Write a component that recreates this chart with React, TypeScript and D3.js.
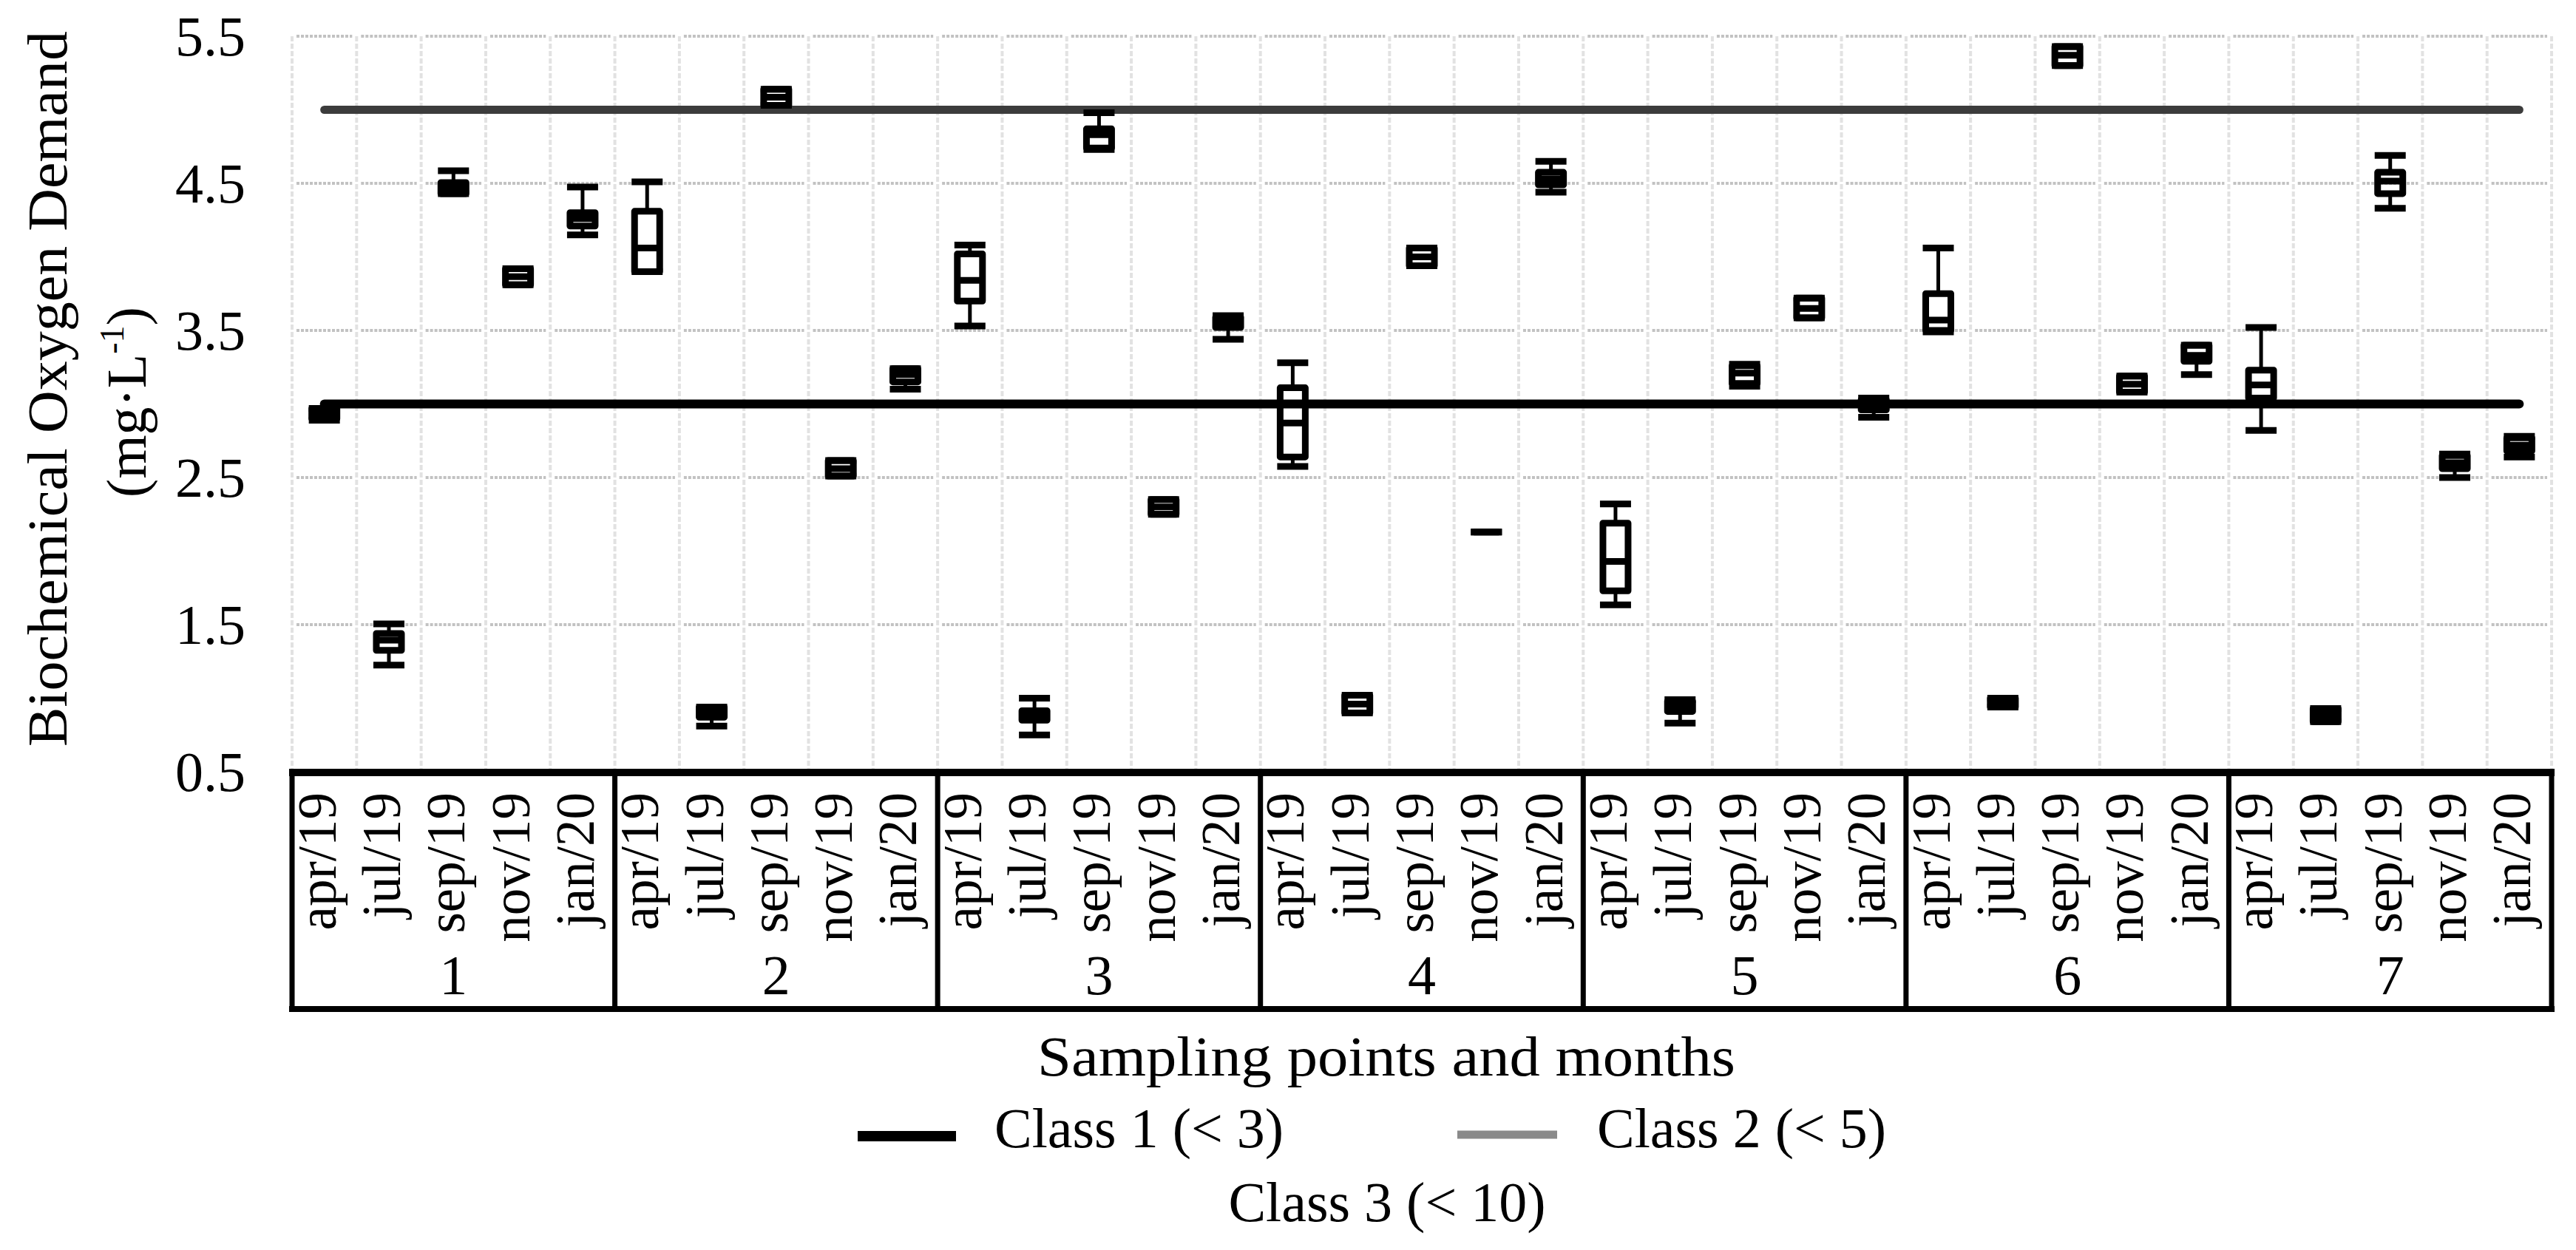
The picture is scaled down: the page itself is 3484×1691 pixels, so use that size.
import React from "react";
import * as d3 from "d3";

const groups = ["1", "2", "3", "4", "5", "6", "7"];
const months = ["apr/19", "jul/19", "sep/19", "nov/19", "jan/20"];
const yTicks = [0.5, 1.5, 2.5, 3.5, 4.5, 5.5];
const yTickLabels = ["0.5", "1.5", "2.5", "3.5", "4.5", "5.5"];

// box-plot statistics, one per (group, month), in group order
const minVals = [
  2.89, 1.225, 4.43, 3.81, 4.15,
  3.9, 0.81, 5.03, 2.51, 3.1,
  3.53, 0.75, 4.73, 2.25, 3.44,
  2.575, 0.9, 3.94, 2.13, 4.44,
  1.635, 0.83, 3.12, 3.585, 2.91,
  3.49, 0.94, 5.3, 3.08, 3.2,
  2.82, 0.84, 4.33, 2.5, 2.64,
];
const q1Vals = [
  2.9, 1.325, 4.43, 3.81, 4.21,
  3.9, 0.87, 5.03, 2.51, 3.15,
  3.7, 0.85, 4.74, 2.25, 3.52,
  2.64, 0.9, 3.94, 2.13, 4.49,
  1.73, 0.91, 3.14, 3.585, 2.96,
  3.5, 0.94, 5.3, 3.08, 3.29,
  3.04, 0.84, 4.43, 2.56, 2.68,
];
const medianVals = [
  2.94, 1.395, 4.47, 3.865, 4.26,
  4.06, 0.905, 5.085, 2.56, 3.2,
  3.84, 0.885, 4.83, 2.3, 3.55,
  2.87, 0.96, 4.0, 2.13, 4.53,
  1.93, 0.95, 3.21, 3.65, 2.99,
  3.57, 0.97, 5.37, 3.135, 3.33,
  3.13, 0.885, 4.515, 2.6, 2.72,
];
const q3Vals = [
  2.97, 1.44, 4.505, 3.92, 4.3,
  4.31, 0.94, 5.14, 2.615, 3.24,
  4.02, 0.915, 4.87, 2.35, 3.59,
  3.11, 1.02, 4.06, 2.13, 4.575,
  2.19, 0.98, 3.26, 3.72, 3.03,
  3.75, 1.0, 5.43, 3.19, 3.4,
  3.23, 0.93, 4.575, 2.65, 2.77,
];
const maxVals = [
  2.97, 1.505, 4.585, 3.92, 4.475,
  4.51, 0.94, 5.14, 2.615, 3.24,
  4.08, 1.0, 4.98, 2.35, 3.6,
  3.28, 1.02, 4.06, 2.13, 4.65,
  2.32, 0.99, 3.27, 3.72, 3.04,
  4.06, 1.0, 5.43, 3.19, 3.4,
  3.52, 0.93, 4.69, 2.66, 2.78,
];

const classNames = ["Class 1 (< 3)", "Class 2 (< 5)", "Class 3 (< 10)"];
const classLimits = [3, 5];

const W = 3484;
const H = 1691;
const FONT = "'Liberation Serif', 'Times New Roman', serif";

export default function App() {
  const categories = groups.flatMap((g) => months.map((m) => `${g}|${m}`));
  const x = d3.scaleBand<string>().domain(categories).range([395, 3451]).padding(0);
  const y = d3.scaleLinear().domain([0.5, 5.5]).range([1044, 49]);
  const bw = x.bandwidth();
  const groupScale = d3.scaleBand<string>().domain(groups).range([395, 3451]).padding(0);
  const gbw = groupScale.bandwidth();

  const first = categories[0];
  const last = categories[categories.length - 1];
  const lineX1 = (x(first) as number) + bw / 2;
  const lineX2 = (x(last) as number) + bw / 2;

  const halfBox = 17;
  const capHalf = 21;
  const sw = 9;

  return (
    <svg
      width={W}
      height={H}
      style={{ position: "absolute", left: 0, top: 0, background: "#fff" }}
      fontFamily={FONT}
    >
      <rect x={0} y={0} width={W} height={H} fill="#fff" />

      {/* vertical gridlines */}
      {[...categories.map((c) => x(c) as number), 3451].map((gx, i) => (
        <line
          key={`vg${i}`}
          x1={gx}
          x2={gx}
          y1={y(5.5)}
          y2={y(0.5)}
          stroke="#e2e2e2"
          strokeWidth={4}
          strokeDasharray="7 3"
        />
      ))}

      {/* horizontal gridlines, segmented per column */}
      {yTicks.slice(1).map((t) =>
        categories.map((c) => (
          <line
            key={`hg${t}-${c}`}
            x1={(x(c) as number) + 6}
            x2={(x(c) as number) + bw - 6}
            y1={y(t)}
            y2={y(t)}
            stroke="#c2c2c2"
            strokeWidth={4}
            strokeDasharray="4 2"
          />
        ))
      )}

      {/* class limit lines */}
      <line x1={lineX1} x2={lineX2} y1={y(classLimits[1])} y2={y(classLimits[1])} stroke="#3c3c3c" strokeWidth={11} strokeLinecap="round" />
      <line x1={lineX1} x2={lineX2} y1={y(classLimits[0])} y2={y(classLimits[0])} stroke="#000" strokeWidth={12} strokeLinecap="round" />

      {/* box plots */}
      {categories.map((c, i) => {
        const cx = (x(c) as number) + bw / 2;
        const yMin = y(minVals[i]);
        const yQ1 = y(q1Vals[i]);
        const yMed = y(medianVals[i]);
        const yQ3 = y(q3Vals[i]);
        const yMax = y(maxVals[i]);
        return (
          <g key={`b${i}`} stroke="#000" fill="none" strokeLinejoin="round">
            {yMax < yQ3 && <line x1={cx} x2={cx} y1={yMax} y2={yQ3} strokeWidth={5} />}
            {yMin > yQ1 && <line x1={cx} x2={cx} y1={yQ1} y2={yMin} strokeWidth={5} />}
            <line x1={cx - capHalf} x2={cx + capHalf} y1={yMax} y2={yMax} strokeWidth={sw} />
            <line x1={cx - capHalf} x2={cx + capHalf} y1={yMin} y2={yMin} strokeWidth={sw} />
            <rect x={cx - halfBox} y={yQ3} width={halfBox * 2} height={Math.max(0, yQ1 - yQ3)} strokeWidth={sw} />
            <line x1={cx - halfBox} x2={cx + halfBox} y1={yMed} y2={yMed} strokeWidth={sw} />
          </g>
        );
      })}

      {/* y tick labels */}
      {yTicks.map((t, i) => (
        <text key={`yt${i}`} x={332} y={y(t)} dy="0.34em" textAnchor="end" fontSize={76} fill="#000">
          {yTickLabels[i]}
        </text>
      ))}

      {/* y axis title */}
      <text
        transform={`translate(90,526) rotate(-90)`}
        textAnchor="middle"
        fontSize={76}
        fill="#000"
        textLength={968}
        lengthAdjust="spacingAndGlyphs"
      >
        Biochemical Oxygen Demand
      </text>
      <text transform={`translate(197,544) rotate(-90)`} textAnchor="middle" fontSize={76} fill="#000">
        <tspan>(mg·L</tspan>
        <tspan fontSize={46} dy={-30}>-1</tspan>
        <tspan dy={30}>)</tspan>
      </text>

      {/* category box */}
      <line x1={391} x2={3455} y1={1045} y2={1045} stroke="#000" strokeWidth={10} />
      <line x1={391} x2={3455} y1={1365} y2={1365} stroke="#000" strokeWidth={8} />
      {[...groups.map((g) => groupScale(g) as number), 3451].map((gx, i) => (
        <line key={`gs${i}`} x1={gx} x2={gx} y1={1045} y2={1369} stroke="#000" strokeWidth={7} />
      ))}

      {/* month labels */}
      {categories.map((c, i) => {
        const cx = (x(c) as number) + bw / 2;
        return (
          <text
            key={`ml${i}`}
            transform={`translate(${cx},1072) rotate(-90)`}
            dy={15}
            textAnchor="end"
            fontSize={73}
            fill="#000"
          >
            {months[i % months.length]}
          </text>
        );
      })}

      {/* group labels */}
      {groups.map((g) => (
        <text
          key={`gl${g}`}
          x={(groupScale(g) as number) + gbw / 2}
          y={1345}
          textAnchor="middle"
          fontSize={76}
          fill="#000"
        >
          {g}
        </text>
      ))}

      {/* x axis title */}
      <text x={1875} y={1455} textAnchor="middle" fontSize={76} fill="#000" textLength={944} lengthAdjust="spacingAndGlyphs">
        Sampling points and months
      </text>

      {/* legend */}
      <line x1={1160} x2={1293} y1={1537} y2={1537} stroke="#000" strokeWidth={14} />
      <text x={1345} y={1552} fontSize={76} fill="#000">
        {classNames[0]}
      </text>
      <line x1={1971} x2={2106} y1={1535} y2={1535} stroke="#8a8a8a" strokeWidth={11} />
      <text x={2160} y={1552} fontSize={76} fill="#000">
        {classNames[1]}
      </text>
      <text x={1876} y={1652} textAnchor="middle" fontSize={76} fill="#000">
        {classNames[2]}
      </text>
    </svg>
  );
}
